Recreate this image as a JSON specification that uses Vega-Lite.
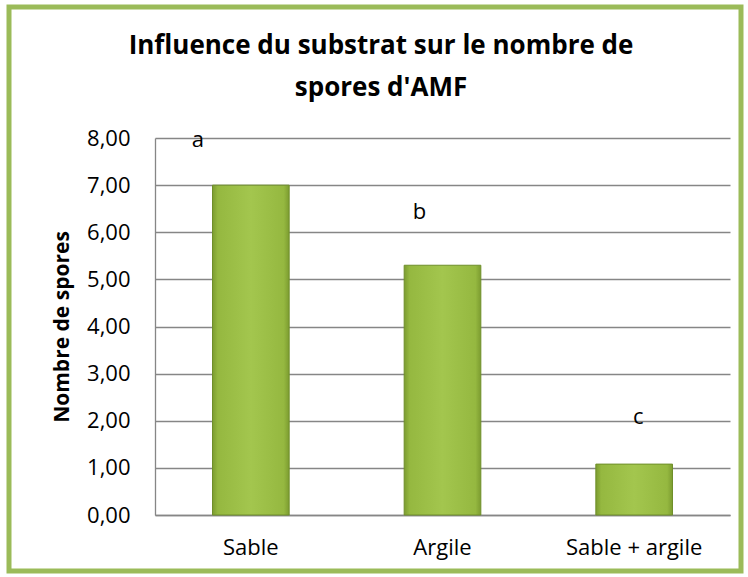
{
  "$schema": "https://vega.github.io/schema/vega-lite/v6.json",
  "autosize": "none",
  "width": 732,
  "height": 564,
  "padding": {"left": 9, "top": 7, "right": 7, "bottom": 6},
  "background": "white",
  "config": {
    "view": {"stroke": "#9BBB59", "strokeWidth": 5},
    "font": "Open Sans"
  },
  "title": {
    "text": ["Influence du substrat sur le nombre  de", "spores d'AMF"],
    "anchor": "middle",
    "frame": "group",
    "orient": "top",
    "baseline": "bottom",
    "offset": -120,
    "dx": 6,
    "fontSize": 26,
    "fontWeight": "bold",
    "font": "Open Sans",
    "lineHeight": 42,
    "color": "#000000"
  },
  "data": {
    "values": [
      {"substrat": "Sable", "spores": 7.0, "lettre": "a", "lettre_y": 7.96},
      {"substrat": "Argile", "spores": 5.3, "lettre": "b", "lettre_y": 6.43},
      {"substrat": "Sable + argile", "spores": 1.08, "lettre": "c", "lettre_y": 2.09}
    ]
  },
  "layer": [
    {
      "mark": {
        "type": "bar",
        "color": {
          "gradient": "linear",
          "x1": 0, "y1": 0, "x2": 1, "y2": 0,
          "stops": [
            {"offset": 0, "color": "#7C9C30"},
            {"offset": 0.07, "color": "#95B840"},
            {"offset": 0.5, "color": "#A3C64E"},
            {"offset": 0.93, "color": "#95B840"},
            {"offset": 1, "color": "#7C9C30"}
          ]
        },
        "stroke": "#6F8F2A",
        "strokeWidth": 1
      },
      "encoding": {
        "x": {
          "field": "substrat",
          "type": "nominal",
          "sort": null,
          "scale": {"range": [146, 721], "paddingInner": 0.6, "paddingOuter": 0.3},
          "axis": {
            "title": null,
            "orient": "bottom",
            "offset": -56,
            "ticks": false,
            "labelAngle": 0,
            "labelFontSize": 22,
            "labelFont": "Open Sans",
            "labelColor": "#000000",
            "labelPadding": 22,
            "domainColor": "#868686",
            "domainWidth": 1.3,
            "grid": false
          }
        },
        "y": {
          "field": "spores",
          "type": "quantitative",
          "scale": {"domain": [0, 8], "nice": false, "range": [508, 131]},
          "axis": {
            "title": "Nombre de spores",
            "titleFontSize": 21,
            "titleFontWeight": "bold",
            "titleFont": "Open Sans",
            "titleColor": "#000000",
            "titlePadding": 14,
            "offset": -146,
            "values": [0, 1, 2, 3, 4, 5, 6, 7, 8],
            "labelExpr": "replace(format(datum.value, '.2f'), '.', ',')",
            "ticks": false,
            "labelFontSize": 22,
            "labelFont": "Open Sans",
            "labelColor": "#000000",
            "labelPadding": 25,
            "domainColor": "#868686",
            "domainWidth": 1.3,
            "grid": true,
            "gridColor": "#868686",
            "gridWidth": 1.3
          }
        }
      }
    },
    {
      "transform": [{"filter": "datum.lettre === 'a'"}],
      "mark": {"type": "text", "fontSize": 22, "font": "Open Sans", "color": "#000000", "baseline": "middle", "dx": -53},
      "encoding": {
        "x": {"field": "substrat", "type": "nominal", "sort": null},
        "y": {"field": "lettre_y", "type": "quantitative"},
        "text": {"field": "lettre"}
      }
    },
    {
      "transform": [{"filter": "datum.lettre === 'b'"}],
      "mark": {"type": "text", "fontSize": 22, "font": "Open Sans", "color": "#000000", "baseline": "middle", "dx": -23},
      "encoding": {
        "x": {"field": "substrat", "type": "nominal", "sort": null},
        "y": {"field": "lettre_y", "type": "quantitative"},
        "text": {"field": "lettre"}
      }
    },
    {
      "transform": [{"filter": "datum.lettre === 'c'"}],
      "mark": {"type": "text", "fontSize": 22, "font": "Open Sans", "color": "#000000", "baseline": "middle", "dx": 4},
      "encoding": {
        "x": {"field": "substrat", "type": "nominal", "sort": null},
        "y": {"field": "lettre_y", "type": "quantitative"},
        "text": {"field": "lettre"}
      }
    }
  ]
}
